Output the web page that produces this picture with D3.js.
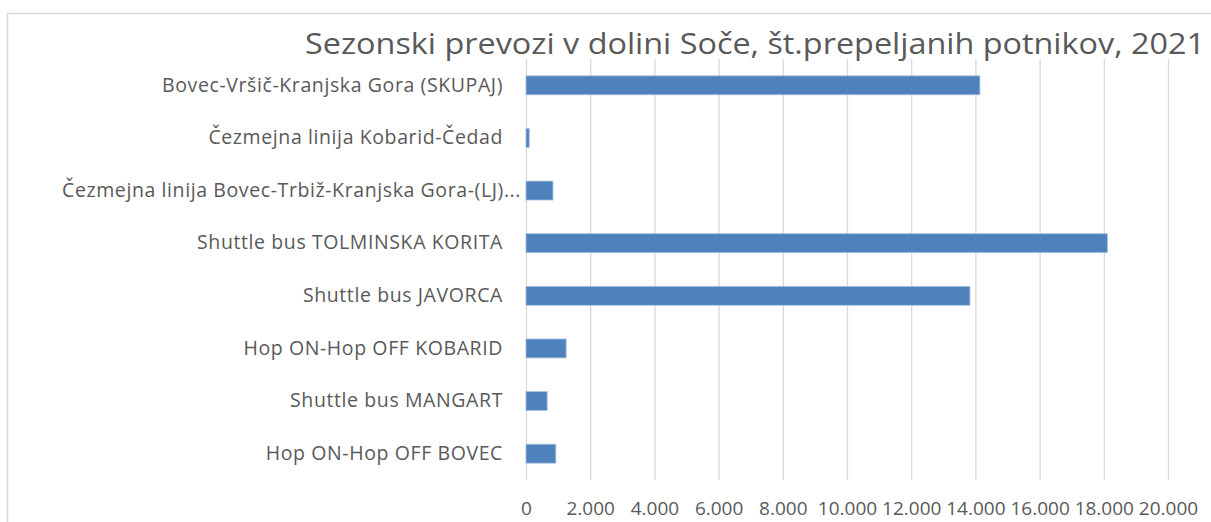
<!DOCTYPE html>
<html>
<head>
<meta charset="utf-8">
<script src="https://cdn.jsdelivr.net/npm/d3@7"></script>
<style>
  body { margin: 0; background: #fff; }
  svg { display: block; }
</style>
</head>
<body>
<div id="chart"></div>
<script>
const svgWidth = 1211
const svgHeight = 522

const title = "Sezonski prevozi v dolini Soče, št.prepeljanih potnikov, 2021"

// top to bottom, as in the picture
const categories = [
	"Bovec-Vršič-Kranjska Gora (SKUPAJ)",
	"Čezmejna linija Kobarid-Čedad",
	"Čezmejna linija Bovec-Trbiž-Kranjska Gora-(LJ)...",
	"Shuttle bus TOLMINSKA KORITA",
	"Shuttle bus JAVORCA",
	"Hop ON-Hop OFF KOBARID",
	"Shuttle bus MANGART",
	"Hop ON-Hop OFF BOVEC"
]
const passengers = [14140, 100, 840, 18110, 13830, 1250, 660, 930]
const tickValues = [0, 2000, 4000, 6000, 8000, 10000, 12000, 14000, 16000, 18000, 20000]

const textColor = "#595959"
const gridColor = "#d9d9d9"
const barColor = "#4f81bd"

const plot = { left: 526, right: 1168, top: 59, bottom: 480 }

// slovenian number format: 2.000
const sl = d3.formatLocale({ decimal: ",", thousands: ".", grouping: [3], currency: ["", " €"] })
const format = sl.format(",d")

const data = categories.map((c, i) => ({ name: c, value: passengers[i] }))

const svg = d3.select("#chart")
	.append("svg")
	.attr("width", svgWidth)
	.attr("height", svgHeight)
	.style("font-family", "'Open Sans', sans-serif")

svg.append("rect")
	.attr("width", svgWidth)
	.attr("height", svgHeight)
	.attr("fill", "#fff")

// chart area border (runs off right and bottom edges)
svg.append("rect")
	.attr("x", 7.5)
	.attr("y", 13.5)
	.attr("width", svgWidth + 20)
	.attr("height", svgHeight + 20)
	.attr("fill", "none")
	.attr("stroke", gridColor)
	.attr("stroke-width", 1.5)

const x = d3.scaleLinear()
	.domain([0, 20000])
	.range([plot.left, plot.right])

const y = d3.scaleBand()
	.domain(categories)
	.range([plot.top, plot.bottom])
	.paddingInner(0.64)
	.paddingOuter(0.32)

// gridlines + value labels
const xAxis = svg.append("g")
	.attr("transform", `translate(0,${plot.bottom})`)
	.call(d3.axisBottom(x)
		.tickValues(tickValues)
		.tickFormat(format)
		.tickSize(-(plot.bottom - plot.top))
		.tickPadding(22))
xAxis.select(".domain").remove()
xAxis.selectAll(".tick line")
	.attr("stroke", gridColor)
	.attr("stroke-width", 1.3)
xAxis.selectAll(".tick text")
	.attr("fill", textColor)
	.style("font-size", "19px")
	.style("font-family", "'Open Sans', sans-serif")

// bars
svg.append("g")
	.selectAll("rect")
	.data(data)
	.enter().append("rect")
	.attr("x", x(0))
	.attr("y", d => y(d.name))
	.attr("width", d => x(d.value) - x(0))
	.attr("height", y.bandwidth())
	.attr("fill", barColor)
	.attr("stroke", "#a9c1df")
	.attr("stroke-width", 0.8)

// category labels
const labelSize = "19.5px"
const yAxis = svg.append("g")
	.attr("transform", `translate(${plot.left},0)`)
	.call(d3.axisLeft(y).tickSize(0).tickPadding(23))
yAxis.select(".domain").remove()
yAxis.selectAll(".tick text")
	.attr("fill", textColor)
	.style("font-size", labelSize)
	.style("letter-spacing", "0.6px")
	.style("font-family", "'Open Sans', sans-serif")
	.each(function(d) {
		// truncated label: the dots hang past the right edge
		if (d.endsWith("...")) {
			const t = d3.select(this)
			const tmp = yAxis.append("text")
				.style("font-size", labelSize)
				.style("letter-spacing", "0.6px")
				.text("...")
			const w = tmp.node().getComputedTextLength()
			tmp.remove()
			t.attr("x", -23 + w)
		}
	})

// title
const titleText = svg.append("text")
	.attr("x", 305)
	.attr("y", 54)
	.attr("fill", textColor)
	.style("font-size", "28.5px")
	.text(title)
const tw = titleText.node().getComputedTextLength()
if (Math.abs(tw - 900) > 4) {
	titleText.attr("textLength", 900).attr("lengthAdjust", "spacingAndGlyphs")
}
</script>
</body>
</html>
